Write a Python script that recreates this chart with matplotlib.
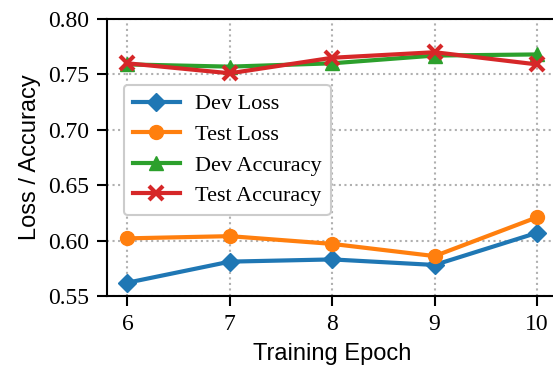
import matplotlib
matplotlib.use("Agg")
import matplotlib.pyplot as plt

epochs = [6, 7, 8, 9, 10]
dev_loss = [0.562, 0.581, 0.583, 0.578, 0.607]
test_loss = [0.602, 0.604, 0.597, 0.586, 0.621]
dev_acc = [0.759, 0.757, 0.760, 0.767, 0.768]
test_acc = [0.760, 0.751, 0.765, 0.770, 0.759]
yticks = [0.55, 0.60, 0.65, 0.70, 0.75, 0.80]

serif = ['Liberation Serif', 'DejaVu Serif']
sans = ['Liberation Sans', 'DejaVu Sans']

fig = plt.figure(figsize=(5.53, 3.68), dpi=100)
# axes runs slightly past the right edge, like the cropped original
ax = fig.add_axes([0.1935, 0.1957, 0.8146, 0.7527])

ax.plot(epochs, dev_loss, color='#1f77b4', marker='D', markersize=9, lw=3, label='Dev Loss')
ax.plot(epochs, test_loss, color='#ff7f0e', marker='o', markersize=10, lw=3, label='Test Loss')
ax.plot(epochs, dev_acc, color='#2ca02c', marker='^', markersize=10, lw=3, label='Dev Accuracy')
ax.plot(epochs, test_acc, color='#d62728', marker='x', markersize=10, mew=3, lw=3, label='Test Accuracy')

ax.set_xlim(5.8, 10.2)
ax.set_ylim(0.55, 0.80)
ax.set_xticks(epochs)
ax.set_yticks(yticks)
ax.set_yticklabels(['%.2f' % v for v in yticks])
ax.grid(True, linestyle=':', color='#b0b0b0', lw=1.5)
ax.set_axisbelow(True)

for lab in ax.get_xticklabels() + ax.get_yticklabels():
    lab.set_family(serif)
    lab.set_fontsize(17)
ax.tick_params(width=1.5, length=7, pad=6)
for s in ax.spines.values():
    s.set_linewidth(1.5)

ax.set_xlabel('Training Epoch', family=sans, fontsize=17, labelpad=6)
ax.set_ylabel('Loss / Accuracy', family=sans, fontsize=17, labelpad=5)

leg = ax.legend(loc='upper left', bbox_to_anchor=(0.0377, 0.7617), borderaxespad=0,
                prop={'family': serif, 'size': 16}, frameon=True, fancybox=True,
                edgecolor='#cccccc', framealpha=1.0, handlelength=2.1,
                handletextpad=0.7, labelspacing=0.45, borderpad=0.4)
leg.get_frame().set_linewidth(1.5)

fig.savefig('out.png', dpi=100)
